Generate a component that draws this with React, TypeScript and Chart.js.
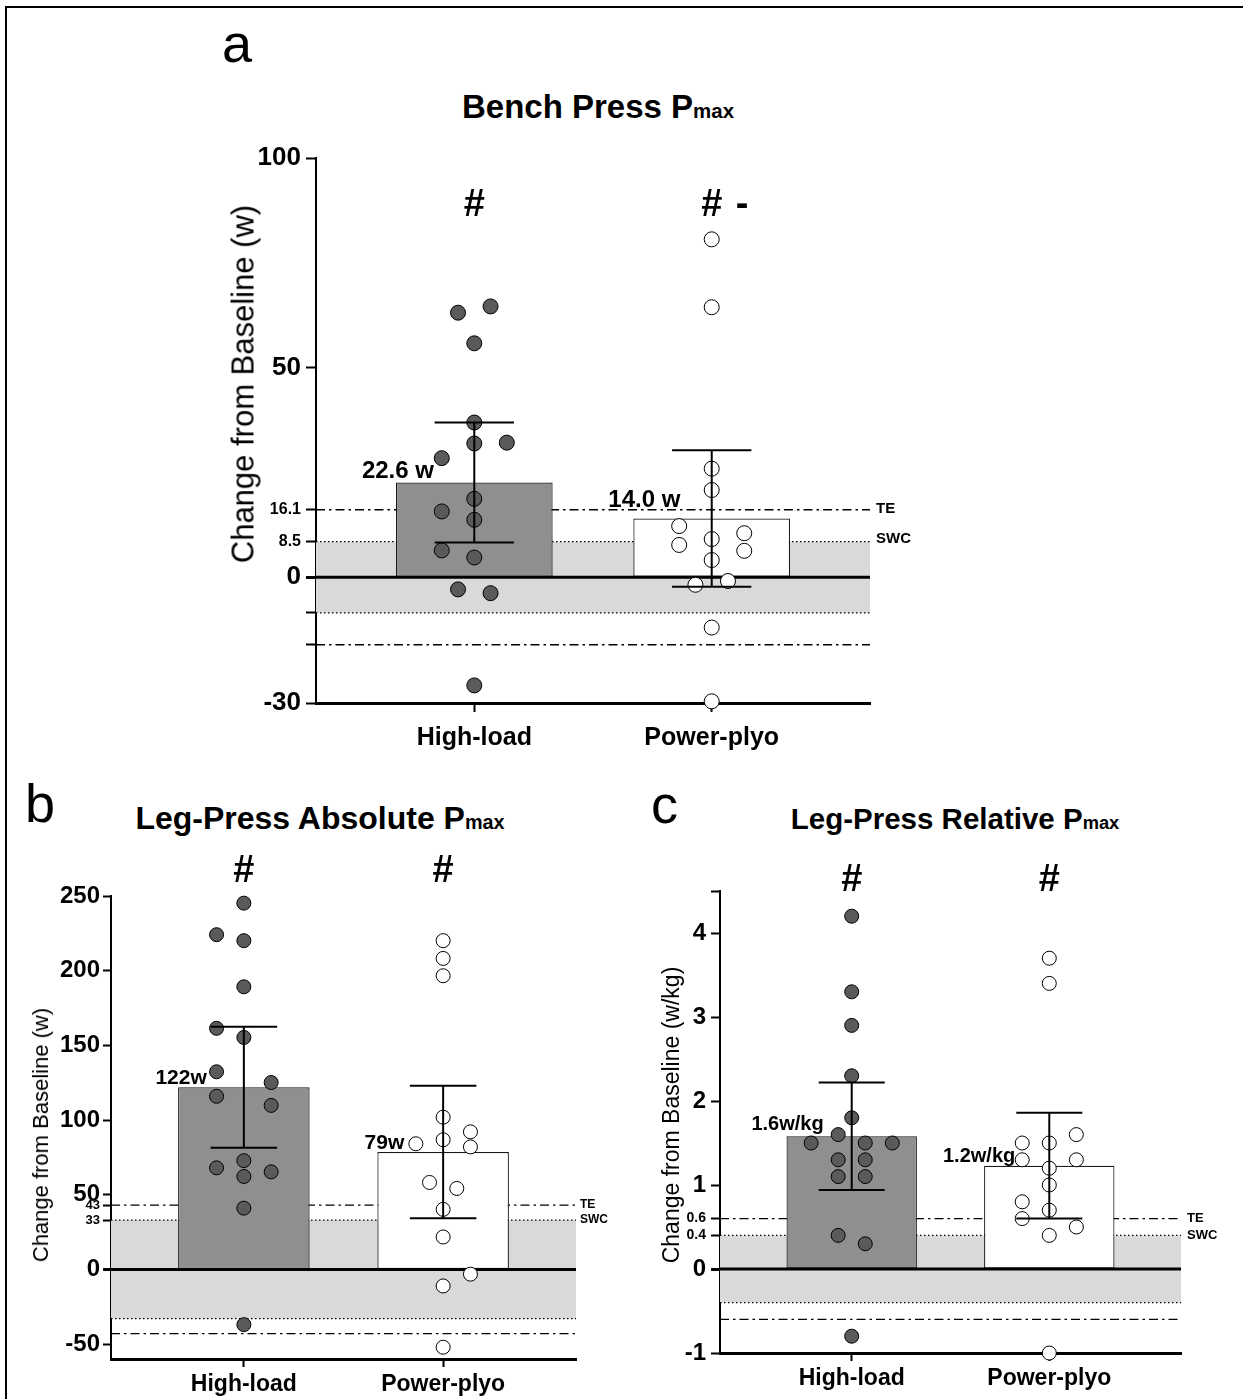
import { useEffect, useRef } from 'react';
import { Chart, registerables } from 'chart.js';

Chart.register(...registerables);

const FONT = "'Liberation Sans', Arial, Helvetica, sans-serif";

// ---------- shared ----------
const GROUPS = ['High-load', 'Power-plyo'];
const X_MIN = 1 / 3;
const X_MAX = 8 / 3;
const JITTER = 0.0685;
const BAR_FRACTION = 0.66;
const CAP_HALF = 0.167;

// ---------- a: Bench Press Pmax (w) ----------
const A_MEANS = [22.6, 14.0];
const A_ERRS = [14.3, 16.3];
const A_MEAN_LABELS = ['22.6 w', '14.0 w'];
const A_TE = 16.1;
const A_SWC = 8.5;
const A_HIGH = [64.6, 63.1, 55.8, 36.9, 32.1, 31.9, 28.4, 18.7, 15.7, 13.7, 6.4, 4.7, -2.9, -3.8, -25.8];
const A_HIGH_COL = [1, -1, 0, 0, 2, 0, -2, 0, -2, 0, -2, 0, -1, 1, 0];
const A_PLYO = [80.6, 64.4, 25.9, 20.8, 12.2, 10.5, 9.1, 7.7, 6.3, 4.1, -0.9, -1.8, -12.0, -29.6];
const A_PLYO_COL = [0, 0, 0, 0, -2, 2, 0, -2, 2, 0, 1, -1, 0, 0];
const A_Y_TICKS = [100, 50, 16.1, 8.5, 0, -8.5, -16.1, -30];
const A_Y_LABELS = ['100', '50', '16.1', '8.5', '0', '', '', '-30'];
const A_SMALL_TICKS = [16.1, 8.5];
const A_MARKS = ['#', '# -'];

// ---------- b: Leg-Press Absolute Pmax (w) ----------
const B_MEANS = [121.9, 78.6];
const B_ERRS = [40.5, 44.3];
const B_MEAN_LABELS = ['122w', '79w'];
const B_TE = 43;
const B_SWC = 33;
const B_HIGH = [245.2, 224.1, 220.1, 189.2, 161.4, 155.3, 132.3, 125.1, 115.9, 109.8, 72.8, 68.0, 65.3, 62.2, 41.0, -37.0];
const B_HIGH_COL = [0, -2, 0, 0, -2, 0, -2, 2, -2, 2, 0, -2, 2, 0, 0, 0];
const B_PLYO = [220.1, 208.2, 196.6, 101.9, 92.1, 86.8, 84.1, 82.0, 58.2, 54.2, 40.2, 21.7, -3.2, -11.1, -52.1];
const B_PLYO_COL = [0, 0, 0, 0, 2, 0, -2, 2, -1, 1, 0, 0, 2, 0, 0];
const B_Y_TICKS = [250, 200, 150, 100, 50, 43, 33, 0, -50];
const B_Y_LABELS = ['250', '200', '150', '100', '50', '43', '33', '0', '-50'];
const B_SMALL_TICKS = [43, 33];
const B_MARKS = ['#', '#'];

// ---------- c: Leg-Press Relative Pmax (w/kg) ----------
const C_MEANS = [1.58, 1.23];
const C_ERRS = [0.64, 0.63];
const C_MEAN_LABELS = ['1.6w/kg', '1.2w/kg'];
const C_TE = 0.6;
const C_SWC = 0.4;
const C_HIGH = [4.2, 3.3, 2.9, 2.3, 1.8, 1.6, 1.5, 1.5, 1.5, 1.3, 1.3, 1.1, 1.1, 0.4, 0.3, -0.8];
const C_HIGH_COL = [0, 0, 0, 0, 0, -1, -3, 1, 3, -1, 1, -1, 1, -1, 1, 0];
const C_PLYO = [3.7, 3.4, 1.6, 1.5, 1.5, 1.3, 1.3, 1.2, 1.0, 0.8, 0.7, 0.6, 0.5, 0.4, -1.0];
const C_PLYO_COL = [0, 0, 2, -2, 0, -2, 2, 0, 0, -2, 0, -2, 2, 0, 0];
const C_Y_TICKS = [4.5, 4, 3, 2, 1, 0.6, 0.4, 0, -1];
const C_Y_LABELS = ['', '4', '3', '2', '1', '0.6', '0.4', '0', '-1'];
const C_SMALL_TICKS = [0.6, 0.4];
const C_MARKS = ['#', '#'];

// ---------- styles ----------
const BAND = '#d9d9d9';
const BAR_COLORS = ['#8f8f8f', '#ffffff'];
const POINT_COLORS = ['#5a5a5a', '#ffffff'];

type Box = { left: number; top: number; width: number; height: number };
type Area = { left: number; top: number; right: number; bottom: number };
type Style = {
  bigTick: number; smallTick: number; xLabel: number; pointRadius: number;
  valueSize: number; valueDx: number[]; valueDy: number[];
  hashSize: number; hashDy: number; suffixDx: number;
  refSize: number; refDx: number; teDy: number; swcDy: number;
  yTickLen: number; yTickPad: number; xTickLen: number; xTickPad: number;
};
type PanelSpec = {
  canvas: Box; area: Area;
  yMin: number; yMax: number;
  yTicks: number[]; yLabels: string[]; smallTicks: number[];
  means: number[]; errs: number[]; meanLabels: string[];
  te: number; swc: number;
  high: number[]; highCol: number[]; plyo: number[]; plyoCol: number[];
  marks: string[];
  style: Style;
};

const PANEL_A: PanelSpec = {
  canvas: { left: 180, top: 130, width: 790, height: 650 },
  area: { left: 316, top: 158, right: 870, bottom: 703 },
  yMin: -30, yMax: 100,
  yTicks: A_Y_TICKS, yLabels: A_Y_LABELS, smallTicks: A_SMALL_TICKS,
  means: A_MEANS, errs: A_ERRS, meanLabels: A_MEAN_LABELS,
  te: A_TE, swc: A_SWC,
  high: A_HIGH, highCol: A_HIGH_COL, plyo: A_PLYO, plyoCol: A_PLYO_COL,
  marks: A_MARKS,
  style: {
    bigTick: 26, smallTick: 16, xLabel: 25, pointRadius: 7.5,
    valueSize: 24, valueDx: [2, 11], valueDy: [-4, -12],
    hashSize: 38, hashDy: 48, suffixDx: 24,
    refSize: 15, refDx: 6, teDy: -1, swcDy: -3,
    yTickLen: 10, yTickPad: 5, xTickLen: 9, xTickPad: 11,
  },
};

const PANEL_B: PanelSpec = {
  canvas: { left: 0, top: 845, width: 640, height: 554 },
  area: { left: 111, top: 896, right: 576, bottom: 1359 },
  yMin: -60, yMax: 250,
  yTicks: B_Y_TICKS, yLabels: B_Y_LABELS, smallTicks: B_SMALL_TICKS,
  means: B_MEANS, errs: B_ERRS, meanLabels: B_MEAN_LABELS,
  te: B_TE, swc: B_SWC,
  high: B_HIGH, highCol: B_HIGH_COL, plyo: B_PLYO, plyoCol: B_PLYO_COL,
  marks: B_MARKS,
  style: {
    bigTick: 24, smallTick: 13, xLabel: 23, pointRadius: 7,
    valueSize: 21, valueDx: [3, 7], valueDy: [-3, -3],
    hashSize: 38, hashDy: -24, suffixDx: 24,
    refSize: 12, refDx: 4, teDy: 0, swcDy: 0,
    yTickLen: 8, yTickPad: 3, xTickLen: 8, xTickPad: 4,
  },
};

const PANEL_C: PanelSpec = {
  canvas: { left: 640, top: 845, width: 603, height: 554 },
  area: { left: 720, top: 891, right: 1181, bottom: 1353 },
  yMin: -1, yMax: 4.5,
  yTicks: C_Y_TICKS, yLabels: C_Y_LABELS, smallTicks: C_SMALL_TICKS,
  means: C_MEANS, errs: C_ERRS, meanLabels: C_MEAN_LABELS,
  te: C_TE, swc: C_SWC,
  high: C_HIGH, highCol: C_HIGH_COL, plyo: C_PLYO, plyoCol: C_PLYO_COL,
  marks: C_MARKS,
  style: {
    bigTick: 24, smallTick: 14, xLabel: 23, pointRadius: 7,
    valueSize: 20, valueDx: [1, -5], valueDy: [-6, -4],
    hashSize: 38, hashDy: -10, suffixDx: 24,
    refSize: 13, refDx: 6, teDy: 0, swcDy: 0,
    yTickLen: 9, yTickPad: 5, xTickLen: 8, xTickPad: 4,
  },
};

function annotations(spec: PanelSpec, barIndex: number) {
  const st = spec.style;
  return {
    id: 'panelAnnotations',
    afterDraw(chart: any) {
      const { ctx, chartArea } = chart;
      const xs = chart.scales.x;
      const ys = chart.scales.y;
      ctx.save();
      ctx.fillStyle = '#000';
      // significance marks
      ctx.font = `bold ${st.hashSize}px ${FONT}`;
      ctx.textBaseline = 'middle';
      spec.marks.forEach((m, i) => {
        const cx = xs.getPixelForValue(i + 1);
        const cy = chartArea.top + st.hashDy;
        const parts = m.split(' ');
        ctx.textAlign = 'center';
        ctx.fillText(parts[0], cx, cy);
        if (parts.length > 1) {
          ctx.textAlign = 'left';
          ctx.fillText(parts.slice(1).join(' '), cx + st.suffixDx, cy);
        }
      });
      // mean value labels
      const meta = chart.getDatasetMeta(barIndex);
      ctx.font = `bold ${st.valueSize}px ${FONT}`;
      ctx.textAlign = 'center';
      ctx.textBaseline = 'alphabetic';
      meta.data.forEach((bar: any, i: number) => {
        const left = bar.x - bar.width / 2;
        ctx.fillText(spec.meanLabels[i], left + st.valueDx[i], bar.y + st.valueDy[i]);
      });
      // TE / SWC labels
      ctx.font = `bold ${st.refSize}px ${FONT}`;
      ctx.textAlign = 'left';
      ctx.textBaseline = 'middle';
      ctx.fillText('TE', chartArea.right + st.refDx, ys.getPixelForValue(spec.te) + st.teDy);
      ctx.fillText('SWC', chartArea.right + st.refDx, ys.getPixelForValue(spec.swc) + st.swcDy);
      ctx.restore();
    },
  };
}

function Panel({ spec }: { spec: PanelSpec }) {
  const ref = useRef<HTMLCanvasElement>(null);
  useEffect(() => {
    const canvas = ref.current;
    if (!canvas) return;
    const c = spec.canvas;
    const a = spec.area;
    const st = spec.style;
    const line = (pts: { x: number; y: number }[], extra: any) => ({
      type: 'line',
      data: pts,
      pointRadius: 0,
      pointHoverRadius: 0,
      borderColor: '#000',
      tension: 0,
      fill: false,
      borderCapStyle: 'butt',
      ...extra,
    });
    const datasets: any[] = [];
    // shaded SWC band
    datasets.push(line([{ x: X_MIN, y: spec.swc }, { x: X_MAX, y: spec.swc }], {
      borderWidth: 0, fill: { value: -spec.swc }, backgroundColor: BAND, order: 10,
    }));
    for (const s of [1, -1]) {
      datasets.push(line([{ x: X_MIN, y: s * spec.swc }, { x: X_MAX, y: s * spec.swc }], {
        borderWidth: 1.3, borderDash: [1.5, 2.5], order: 9,
      }));
      datasets.push(line([{ x: X_MIN, y: s * spec.te }, { x: X_MAX, y: s * spec.te }], {
        borderWidth: 1.3, borderDash: [9, 4, 2.5, 4], order: 9,
      }));
    }
    const barIndex = datasets.length;
    datasets.push({
      type: 'bar',
      data: spec.means.map((m, i) => ({ x: i + 1, y: m })),
      backgroundColor: BAR_COLORS,
      borderColor: '#1a1a1a',
      borderWidth: 1.2,
      borderSkipped: false,
      barPercentage: BAR_FRACTION,
      categoryPercentage: 1,
      order: 8,
    });
    datasets.push(line([{ x: X_MIN, y: 0 }, { x: X_MAX, y: 0 }], { borderWidth: 3, order: 7 }));
    const groupsPts = [
      { vals: spec.high, cols: spec.highCol },
      { vals: spec.plyo, cols: spec.plyoCol },
    ];
    groupsPts.forEach((g, gi) => {
      datasets.push({
        type: 'scatter',
        data: g.vals.map((v, i) => ({ x: gi + 1 + g.cols[i] * JITTER, y: v })),
        pointRadius: st.pointRadius,
        pointHoverRadius: st.pointRadius,
        pointBackgroundColor: POINT_COLORS[gi],
        pointBorderColor: '#000',
        pointBorderWidth: 1,
        showLine: false,
        clip: false,
        order: 4,
      });
    });
    spec.means.forEach((m, i) => {
      const e = spec.errs[i];
      const gx = i + 1;
      datasets.push(line([{ x: gx, y: m - e }, { x: gx, y: m + e }], { borderWidth: 2, order: 1, clip: false }));
      datasets.push(line([{ x: gx - CAP_HALF, y: m + e }, { x: gx + CAP_HALF, y: m + e }], { borderWidth: 2, order: 1, clip: false }));
      datasets.push(line([{ x: gx - CAP_HALF, y: m - e }, { x: gx + CAP_HALF, y: m - e }], { borderWidth: 2, order: 1, clip: false }));
    });

    const yWidth = a.left - c.left;
    const xHeight = c.top + c.height - a.bottom;

    const chart = new Chart(canvas, {
      type: 'bar',
      data: { datasets },
      plugins: [annotations(spec, barIndex) as any],
      options: {
        animation: false,
        responsive: false,
        maintainAspectRatio: false,
        events: [],
        layout: {
          padding: {
            left: 0,
            top: a.top - c.top,
            right: c.left + c.width - a.right,
            bottom: 0,
          },
        },
        plugins: {
          legend: { display: false },
          tooltip: { enabled: false },
          title: { display: false },
        },
        scales: {
          x: {
            type: 'linear',
            min: X_MIN,
            max: X_MAX,
            offset: false,
            afterBuildTicks: (s: any) => { s.ticks = GROUPS.map((_, i) => ({ value: i + 1 })); },
            afterFit: (s: any) => { s.height = xHeight; },
            ticks: {
              autoSkip: false,
              maxRotation: 0,
              minRotation: 0,
              padding: st.xTickPad,
              color: '#000',
              font: { family: FONT, weight: 'bold', size: st.xLabel },
              callback: (v: any) => GROUPS[Math.round(Number(v)) - 1] ?? '',
            },
            grid: {
              offset: false,
              drawOnChartArea: false,
              drawTicks: true,
              tickLength: st.xTickLen,
              tickColor: '#000',
              tickWidth: 2,
            },
            border: { display: true, color: '#000', width: 3 },
          },
          y: {
            type: 'linear',
            min: spec.yMin,
            max: spec.yMax,
            afterBuildTicks: (s: any) => { s.ticks = spec.yTicks.map((v) => ({ value: v })); },
            afterFit: (s: any) => { s.width = yWidth; },
            ticks: {
              autoSkip: false,
              padding: st.yTickPad,
              color: '#000',
              font: (ctx: any) => ({
                family: FONT,
                weight: 'bold',
                size: ctx.tick && spec.smallTicks.includes(ctx.tick.value) ? st.smallTick : st.bigTick,
              }),
              callback: (v: any) => {
                const idx = spec.yTicks.indexOf(Number(v));
                return idx >= 0 ? spec.yLabels[idx] : '';
              },
            },
            grid: {
              offset: false,
              drawOnChartArea: false,
              drawTicks: true,
              tickLength: st.yTickLen,
              tickColor: '#000',
              tickWidth: (ctx: any) => (ctx.tick && ctx.tick.value === 0 ? 3 : 2),
            },
            border: { display: true, color: '#000', width: 2 },
          },
        },
      } as any,
    } as any);
    return () => chart.destroy();
  }, [spec]);

  const c = spec.canvas;
  return (
    <canvas
      ref={ref}
      width={c.width}
      height={c.height}
      style={{ position: 'absolute', left: c.left, top: c.top, width: c.width, height: c.height }}
    />
  );
}

function Text({ x, baseline, size, bold, align, children }: any) {
  const style: any = {
    position: 'absolute',
    top: baseline - 0.847 * size,
    left: x,
    fontSize: size,
    lineHeight: 1,
    fontWeight: bold ? 'bold' : 'normal',
    whiteSpace: 'nowrap',
    color: '#000',
  };
  if (align === 'center') style.transform = 'translateX(-50%)';
  return <div style={style}>{children}</div>;
}

function YTitle({ cx, cy, size, children }: any) {
  return (
    <div
      style={{
        position: 'absolute',
        left: cx,
        top: cy,
        fontSize: size,
        lineHeight: 1,
        whiteSpace: 'nowrap',
        color: '#000',
        transform: 'translate(-50%, -50%) rotate(-90deg)',
      }}
    >
      {children}
    </div>
  );
}

function Pmax({ text }: { text: string }) {
  return (
    <>
      {text}P<span style={{ fontSize: '0.62em' }}>max</span>
    </>
  );
}

export default function App() {
  Chart.defaults.font.family = FONT;
  return (
    <div
      style={{
        position: 'absolute',
        left: 0,
        top: 0,
        width: 1243,
        height: 1399,
        overflow: 'hidden',
        background: '#fff',
        fontFamily: FONT,
      }}
    >
      <div
        style={{
          position: 'absolute',
          left: 5,
          top: 6,
          width: 1400,
          height: 1500,
          borderTop: '2px solid #000',
          borderLeft: '2px solid #000',
        }}
      />
      <Panel spec={PANEL_A} />
      <Panel spec={PANEL_B} />
      <Panel spec={PANEL_C} />

      <Text x={222} baseline={62} size={54}>a</Text>
      <Text x={598} baseline={118} size={33} bold align="center"><Pmax text="Bench Press " /></Text>
      <YTitle cx={243} cy={384} size={31}>Change from Baseline (w)</YTitle>

      <Text x={25} baseline={822} size={54}>b</Text>
      <Text x={320} baseline={829} size={32} bold align="center"><Pmax text="Leg-Press Absolute " /></Text>
      <YTitle cx={41} cy={1135} size={22}>Change from Baseline (w)</YTitle>

      <Text x={651} baseline={823} size={54}>c</Text>
      <Text x={955} baseline={829} size={29.5} bold align="center"><Pmax text="Leg-Press Relative " /></Text>
      <YTitle cx={671} cy={1115} size={23}>Change from Baseline (w/kg)</YTitle>
    </div>
  );
}
